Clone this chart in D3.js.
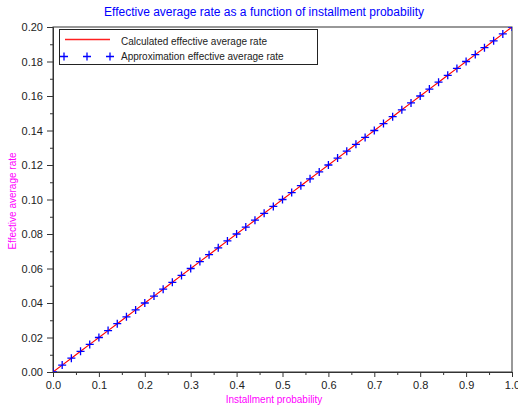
<!DOCTYPE html>
<html><head><meta charset="utf-8">
<script src="https://cdn.jsdelivr.net/npm/d3@7"></script>
<style>body{margin:0;background:#fff;} svg{display:block;font-family:"Liberation Sans",Arial,sans-serif;}</style>
</head><body>
<script>
const probabilities = [0,0.02,0.04,0.06,0.08,0.10,0.12,0.14,0.16,0.18,0.20,0.22,0.24,0.26,0.28,0.30,0.32,0.34,0.36,0.38,0.40,0.42,0.44,0.46,0.48,0.50,0.52,0.54,0.56,0.58,0.60,0.62,0.64,0.66,0.68,0.70,0.72,0.74,0.76,0.78,0.80,0.82,0.84,0.86,0.88,0.90,0.92,0.94,0.96,0.98,1.00];
const calculatedRate = [0,0.004,0.008,0.012,0.016,0.020,0.024,0.028,0.032,0.036,0.040,0.044,0.048,0.052,0.056,0.060,0.064,0.068,0.072,0.076,0.080,0.084,0.088,0.092,0.096,0.100,0.104,0.108,0.112,0.116,0.120,0.124,0.128,0.132,0.136,0.140,0.144,0.148,0.152,0.156,0.160,0.164,0.168,0.172,0.176,0.180,0.184,0.188,0.192,0.196,0.200];
const approxRate = [0,0.004,0.008,0.012,0.016,0.020,0.024,0.028,0.032,0.036,0.040,0.044,0.048,0.052,0.056,0.060,0.064,0.068,0.072,0.076,0.080,0.084,0.088,0.092,0.096,0.100,0.104,0.108,0.112,0.116,0.120,0.124,0.128,0.132,0.136,0.140,0.144,0.148,0.152,0.156,0.160,0.164,0.168,0.172,0.176,0.180,0.184,0.188,0.192,0.196,0.200];
const xTicks = [0,0.1,0.2,0.3,0.4,0.5,0.6,0.7,0.8,0.9,1.0];
const yTicks = [0,0.02,0.04,0.06,0.08,0.10,0.12,0.14,0.16,0.18,0.20];
const xMinor = [0.05,0.15,0.25,0.35,0.45,0.55,0.65,0.75,0.85,0.95];
const yMinor = [0.01,0.03,0.05,0.07,0.09,0.11,0.13,0.15,0.17,0.19];

const W=518,H=405;
const L=53,R=512,T=27,B=372;
const svg=d3.select("body").append("svg").attr("width",W).attr("height",H);
const x=d3.scaleLinear().domain([0,1]).range([L,R]);
const y=d3.scaleLinear().domain([0,0.2]).range([B,T]);
const axisColor="#333";

svg.append("text").attr("x",264).attr("y",16).attr("text-anchor","middle")
  .attr("fill","#0000ff").attr("font-size",12).text("Effective average rate as a function of installment probability");

svg.append("rect").attr("x",L).attr("y",T).attr("width",R-L).attr("height",B-T)
  .attr("fill","none").attr("stroke",axisColor).attr("stroke-width",1);

const xAxis=svg.append("g").attr("transform",`translate(0,${B})`)
  .call(d3.axisBottom(x).tickValues(xTicks).tickFormat(d3.format(".1f")).tickSize(5).tickSizeOuter(0));
const xAxisMinor=svg.append("g").attr("transform",`translate(0,${B})`)
  .call(d3.axisBottom(x).tickValues(xMinor).tickFormat("").tickSize(3).tickSizeOuter(0));
const yAxis=svg.append("g").attr("transform",`translate(${L},0)`)
  .call(d3.axisLeft(y).tickValues(yTicks).tickFormat(d3.format(".2f")).tickSize(6).tickSizeOuter(0));
const yAxisMinor=svg.append("g").attr("transform",`translate(${L},0)`)
  .call(d3.axisLeft(y).tickValues(yMinor).tickFormat("").tickSize(3).tickSizeOuter(0));
[xAxis,xAxisMinor,yAxis,yAxisMinor].forEach(g=>{
  g.select(".domain").attr("stroke",axisColor);
  g.selectAll(".tick line").attr("stroke",axisColor);
  g.selectAll(".tick text").attr("fill","#222").attr("font-size",11).attr("font-family","Liberation Sans,Arial,sans-serif");
});
xAxis.selectAll(".tick text").attr("dy","0.71em").attr("y",9);
yAxis.selectAll(".tick text").attr("x",-10);

svg.append("defs").append("clipPath").attr("id","clip").append("rect")
  .attr("x",L).attr("y",T).attr("width",R-L).attr("height",B-T);
const plot=svg.append("g").attr("clip-path","url(#clip)");

const line=d3.line().x((d,i)=>x(probabilities[i])).y(d=>y(d));
plot.append("path").datum(calculatedRate).attr("d",line).attr("fill","none").attr("stroke","#ff0000").attr("stroke-width",1.1);

const s=4;
const plus=(g,cx,cy)=>{
  g.append("path").attr("d",`M${cx-s},${cy}H${cx+s}M${cx},${cy-s}V${cy+s}`).attr("stroke","#0000ff").attr("stroke-width",1.3).attr("fill","none");
};
approxRate.forEach((v,i)=>plus(plot,x(probabilities[i]),y(v)));

const lg=svg.append("g");
lg.append("rect").attr("x",59.5).attr("y",29.5).attr("width",258).attr("height",35).attr("fill","#fff").attr("stroke","#222").attr("stroke-width",1);
lg.append("line").attr("x1",65).attr("x2",110).attr("y1",39.5).attr("y2",39.5).attr("stroke","#ff2020").attr("stroke-width",1.4);
[64,87,110].forEach(cx=>plus(lg,cx,56.5));
lg.append("text").attr("x",121).attr("y",45).attr("font-size",10).attr("fill","#222").text("Calculated effective average rate");
lg.append("text").attr("x",121).attr("y",60).attr("font-size",10).attr("fill","#222").text("Approximation effective average rate");

svg.append("text").attr("x",274).attr("y",403).attr("text-anchor","middle").attr("fill","#ff00ff").attr("font-size",10).text("Installment probability");
svg.append("text").attr("transform","translate(16,201) rotate(-90)").attr("text-anchor","middle").attr("fill","#ff00ff").attr("font-size",10).text("Effective average rate");
</script>
</body></html>
